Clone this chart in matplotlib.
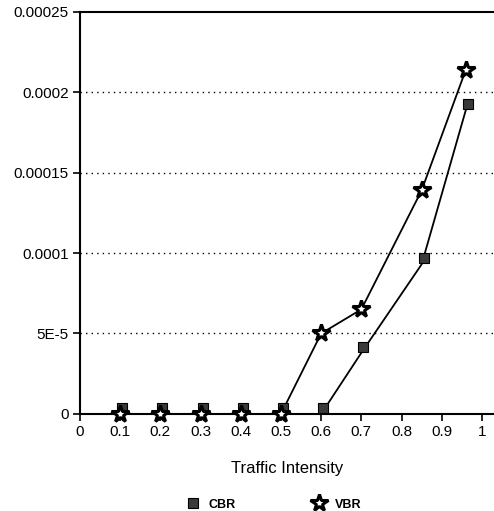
import numpy as np
import matplotlib
matplotlib.use("Agg")
import matplotlib.pyplot as plt
import matplotlib.transforms as mtransforms

plt.rcParams['font.family'] = ['Liberation Sans', 'DejaVu Sans']

# Data
intensity = [0.1, 0.2, 0.3, 0.4, 0.5, 0.6, 0.7, 0.85, 0.96]
cbr = [0, 0, 0, 0, 0, 0, 3.8e-5, 9.3e-5, 1.89e-4]
vbr = [0, 0, 0, 0, 0, 5.0e-5, 6.5e-5, 1.39e-4, 2.14e-4]

x_ticks = [0, 0.1, 0.2, 0.3, 0.4, 0.5, 0.6, 0.7, 0.8, 0.9, 1]
x_tick_labels = ['0', '0.1', '0.2', '0.3', '0.4', '0.5', '0.6', '0.7', '0.8', '0.9', '1']
y_ticks = [0, 5e-5, 1e-4, 1.5e-4, 2e-4, 2.5e-4]
y_tick_labels = ['0', '5E-5', '0.0001', '0.00015', '0.0002', '0.00025']

fig = plt.figure(figsize=(4.94, 5.11), dpi=100)
ax = fig.add_axes([0.162, 0.19, 0.838, 0.787])

# lines
ax.plot(intensity, cbr, color='black', lw=1.3, clip_on=False, zorder=3)
ax.plot(intensity, vbr, color='black', lw=1.3, clip_on=False, zorder=3)

# square markers sit a little above the CBR line in the original
shift = mtransforms.ScaledTranslation(2 / 100, 6 / 100, fig.dpi_scale_trans)
ax.plot(intensity, cbr, ls='none', marker='s', ms=6.5, mfc='#3a3a3a', mec='black',
        mew=0.8, clip_on=False, zorder=4, transform=ax.transData + shift)
ax.plot(intensity, vbr, ls='none', marker='*', ms=13, mfc='white', mec='black',
        mew=2.2, clip_on=False, zorder=5)

ax.set_xlim(0, 1.03)
ax.set_ylim(0, 2.5e-4)
ax.set_xticks(x_ticks)
ax.set_xticklabels(x_tick_labels, fontsize=11)
ax.set_yticks(y_ticks)
ax.set_yticklabels(y_tick_labels, fontsize=11)
ax.tick_params(axis='both', direction='out', length=5, width=1.2, pad=3, colors='black')

for gy in y_ticks[1:-1]:
    ax.axhline(gy, color='black', lw=1.0, ls=(0, (1, 3)), zorder=1)

ax.spines['right'].set_visible(False)
ax.spines['top'].set_linewidth(1.5)
ax.spines['left'].set_linewidth(1.5)
ax.spines['bottom'].set_linewidth(1.5)

ax.set_xlabel('Traffic Intensity', fontsize=12, labelpad=16)

# legend below the axis
h1, = ax.plot([], [], ls='none', marker='s', ms=6.5, mfc='#3a3a3a', mec='black', mew=0.8)
h2, = ax.plot([], [], ls='none', marker='*', ms=13, mfc='white', mec='black', mew=2.2)
fig.legend([h1, h2], ['CBR', 'VBR'], loc='center', bbox_to_anchor=(0.548, 0.012),
           ncol=2, frameon=False, columnspacing=5.6, handletextpad=0.3,
           prop={'size': 9, 'weight': 'bold'})

fig.savefig('out.png', dpi=100)
